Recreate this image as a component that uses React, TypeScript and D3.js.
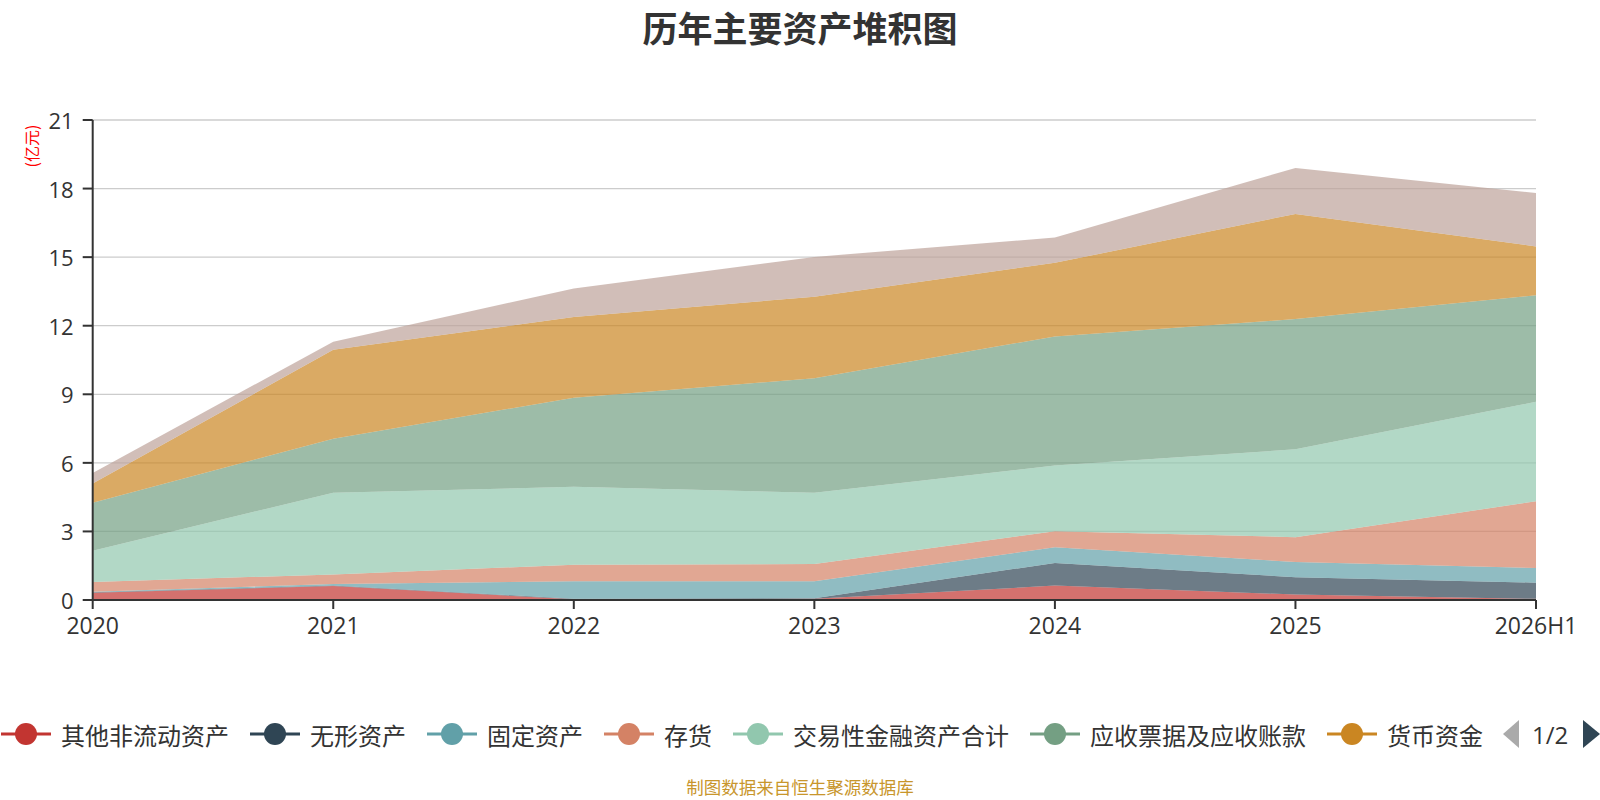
import * as d3 from "d3";

// categories and series (亿元)
const categories = ["2020", "2021", "2022", "2023", "2024", "2025", "2026H1"];
const otherNonCurrent = [0.32, 0.61, 0.03, 0.05, 0.63, 0.24, 0.05];
const intangible = [0.02, 0.02, 0.03, 0.03, 0.99, 0.76, 0.71];
const fixedAssets = [0.02, 0.07, 0.76, 0.74, 0.69, 0.66, 0.64];
const inventory = [0.43, 0.42, 0.72, 0.75, 0.7, 1.09, 2.92];
const tradingFinancial = [1.37, 3.57, 3.41, 3.12, 2.87, 3.84, 4.35];
const receivables = [2.09, 2.37, 3.9, 5.01, 5.65, 5.7, 4.66];
const cash = [0.85, 3.89, 3.53, 3.57, 3.22, 4.6, 2.14];
const otherCurrent = [0.46, 0.35, 1.25, 1.74, 1.11, 2.01, 2.34];

const seriesNames = [
  "其他非流动资产",
  "无形资产",
  "固定资产",
  "存货",
  "交易性金融资产合计",
  "应收票据及应收账款",
  "货币资金",
  "其他流动资产",
];
const seriesValues = [
  otherNonCurrent,
  intangible,
  fixedAssets,
  inventory,
  tradingFinancial,
  receivables,
  cash,
  otherCurrent,
];
const colors = [
  "#c23531",
  "#2f4554",
  "#61a0a8",
  "#d48265",
  "#91c7ae",
  "#749f83",
  "#ca8622",
  "#bda29a",
];
const yTicks = [0, 3, 6, 9, 12, 15, 18, 21];
// only page 1 of the legend is shown
const legendCount = 7;

const margin = { top: 120, right: 64, bottom: 200, left: 92.7 };
const width = 1600;
const height = 800;
const cjk = "'Noto Sans CJK SC', 'Noto Sans', sans-serif";
const latin = "'Open Sans', 'Noto Sans', sans-serif";

type Row = { cat: string; [k: string]: number | string };

export default function App() {
  const rows: Row[] = categories.map((cat, i) => {
    const r: Row = { cat };
    seriesNames.forEach((n, j) => (r[n] = seriesValues[j][i]));
    return r;
  });

  const stacked = d3
    .stack<Row>()
    .keys(seriesNames)
    .value((d, k) => d[k] as number)(rows);

  const x = d3
    .scalePoint()
    .domain(categories)
    .range([margin.left, width - margin.right]);
  const y = d3
    .scaleLinear()
    .domain([0, 21])
    .range([height - margin.bottom, margin.top]);

  const area = d3
    .area<d3.SeriesPoint<Row>>()
    .x((d) => x(d.data.cat) as number)
    .y0((d) => y(d[0]))
    .y1((d) => y(d[1]));

  const x0 = margin.left;
  const x1 = width - margin.right;
  const yBase = y(0);

  // legend layout
  const fontLegend = 24;
  const iconW = 50;
  let cursor = 1;
  const legendItems = seriesNames.slice(0, legendCount).map((name, i) => {
    const item = { name, color: colors[i], x: cursor };
    cursor += iconW + 10 + name.length * fontLegend + 21;
    return item;
  });
  const legendY = 734;

  return (
    <svg
      width={width}
      height={height}
      style={{ position: "absolute", left: 0, top: 0, background: "#fff" }}
    >
      <text
        x={800}
        y={26}
        textAnchor="middle"
        dominantBaseline="central"
        fontFamily={cjk}
        fontWeight="bold"
        fontSize={35}
        fill="#333"
      >
        历年主要资产堆积图
      </text>

      {/* grid */}
      {yTicks.map((t) => (
        <line
          key={`g-${t}`}
          x1={x0}
          x2={x1}
          y1={y(t)}
          y2={y(t)}
          stroke="#ccc"
          strokeWidth={1.3}
        />
      ))}

      {/* stacked areas */}
      {stacked.map((s, i) => (
        <path
          key={s.key}
          d={area(s) ?? ""}
          fill={colors[i]}
          fillOpacity={0.7}
          stroke="none"
        />
      ))}

      {/* y axis */}
      <line x1={x0} x2={x0} y1={y(21)} y2={yBase} stroke="#333" strokeWidth={2} />
      {yTicks.map((t) => (
        <g key={`yt-${t}`}>
          <line x1={x0 - 10} x2={x0} y1={y(t)} y2={y(t)} stroke="#333" strokeWidth={2} />
          <text
            x={x0 - 19}
            y={y(t)}
            textAnchor="end"
            dominantBaseline="central"
            fontFamily={latin}
            fontSize={22}
            fill="#333"
          >
            {t}
          </text>
        </g>
      ))}
      <text
        transform={`translate(31,146) rotate(-90)`}
        textAnchor="middle"
        dominantBaseline="central"
        fontFamily={cjk}
        fontSize={16}
        fill="#f00"
      >
        (亿元)
      </text>

      {/* x axis */}
      <line x1={x0} x2={x1} y1={yBase} y2={yBase} stroke="#333" strokeWidth={2} />
      {categories.map((c) => (
        <g key={`xt-${c}`}>
          <line
            x1={x(c)}
            x2={x(c)}
            y1={yBase}
            y2={yBase + 9}
            stroke="#333"
            strokeWidth={2}
          />
          <text
            x={x(c)}
            y={634}
            textAnchor="middle"
            fontFamily={latin}
            fontSize={23}
            fill="#333"
          >
            {c}
          </text>
        </g>
      ))}

      {/* legend */}
      {legendItems.map((it) => (
        <g key={`lg-${it.name}`}>
          <line
            x1={it.x}
            x2={it.x + iconW}
            y1={legendY}
            y2={legendY}
            stroke={it.color}
            strokeWidth={3}
          />
          <circle cx={it.x + iconW / 2} cy={legendY} r={11} fill={it.color} />
          <text
            x={it.x + iconW + 10}
            y={legendY}
            dominantBaseline="central"
            fontFamily={cjk}
            fontSize={fontLegend}
            fill="#333"
          >
            {it.name}
          </text>
        </g>
      ))}
      <polygon
        points={`1503,${legendY} 1519,${legendY - 14} 1519,${legendY + 14}`}
        fill="#aaa"
      />
      <text
        x={1532}
        y={legendY}
        dominantBaseline="central"
        fontFamily={latin}
        fontSize={24}
        fill="#333"
      >
        1/2
      </text>
      <polygon
        points={`1600,${legendY} 1583,${legendY - 14} 1583,${legendY + 14}`}
        fill="#2f4554"
      />

      <text
        x={800}
        y={786}
        textAnchor="middle"
        dominantBaseline="central"
        fontFamily={cjk}
        fontSize={17.5}
        fill="#c8962c"
      >
        制图数据来自恒生聚源数据库
      </text>
    </svg>
  );
}
